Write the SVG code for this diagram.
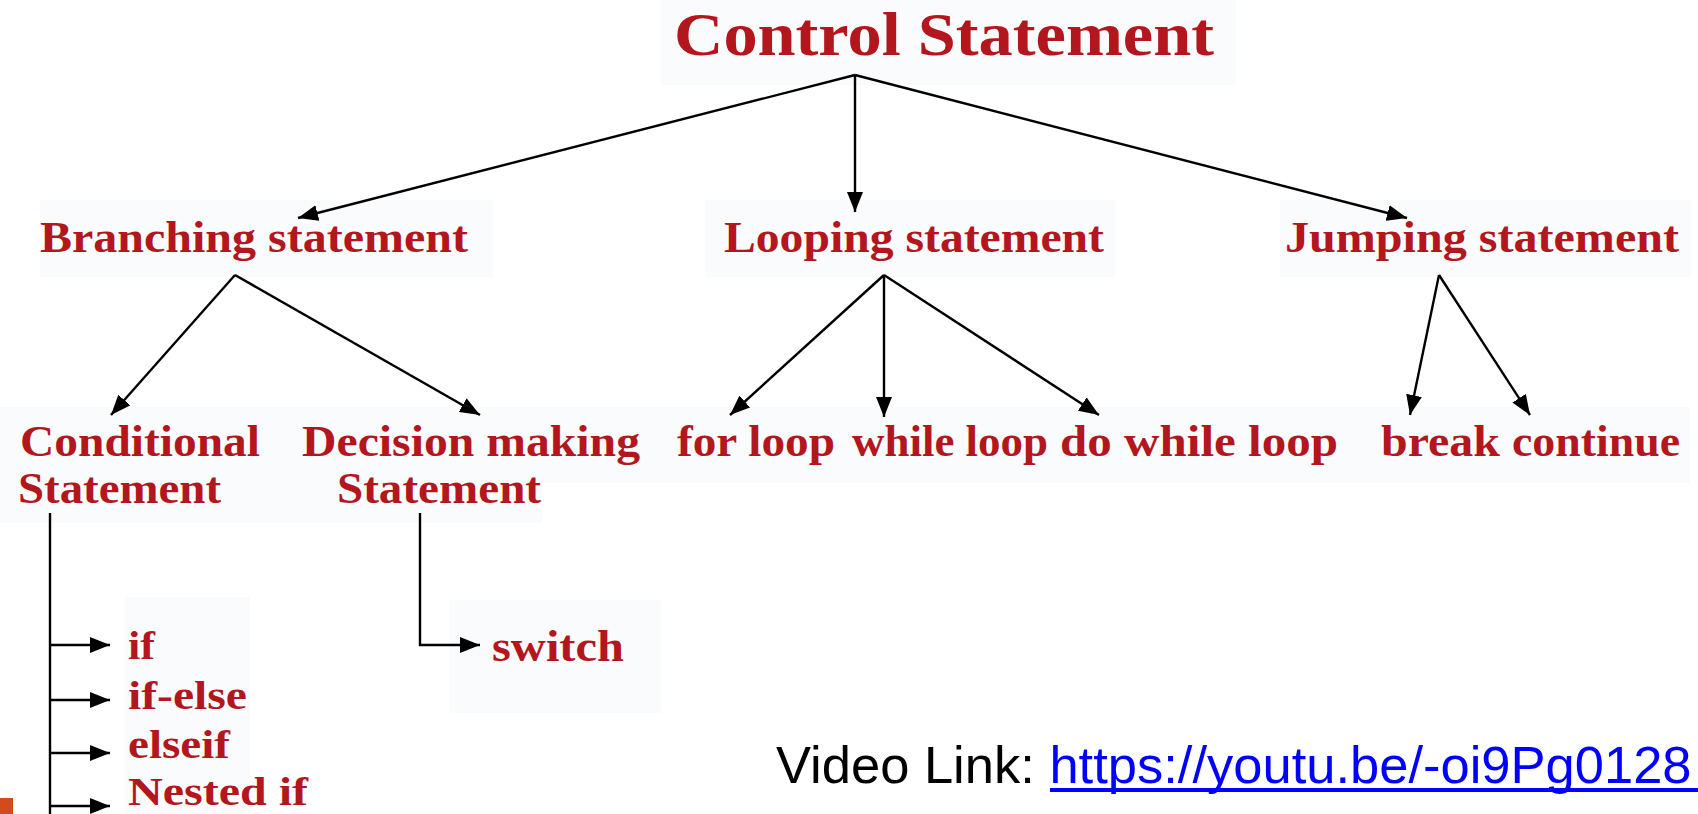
<svg xmlns="http://www.w3.org/2000/svg" width="1698" height="814" viewBox="0 0 1698 814">
<style>
.lbl{font-family:"Liberation Serif","Times New Roman",serif;font-weight:bold;fill:#b3161d;font-size:44px}
.ttl{font-size:61px}
.sm{font-size:40px}
.conn{stroke:#000;stroke-width:2.4;fill:none}
.bg{fill:#fafbfc}
.link{font-family:"Liberation Sans",Arial,sans-serif;font-size:52.5px}
</style>
<defs>
<marker id="arr" viewBox="0 0 20 16" refX="20" refY="8" markerWidth="20" markerHeight="16" markerUnits="userSpaceOnUse" orient="auto">
<path d="M0,0 L20,8 L0,16 z" fill="#000"/>
</marker>
</defs>
<rect width="1698" height="814" fill="#fff"/>
<g id="backgrounds">
<rect class="bg" x="661" y="0" width="575" height="85"/>
<rect class="bg" x="40" y="200" width="453" height="77"/>
<rect class="bg" x="705" y="200" width="410" height="77"/>
<rect class="bg" x="1280" y="200" width="411" height="77"/>
<rect class="bg" x="0" y="407" width="1690" height="76"/>
<rect class="bg" x="0" y="483" width="542" height="40"/>
<rect class="bg" x="125" y="597" width="125" height="217"/>
<rect class="bg" x="450" y="600" width="211" height="113"/>
</g>
<g id="connectors">
<line class="conn" x1="855" y1="75" x2="298" y2="218" marker-end="url(#arr)"/>
<line class="conn" x1="855" y1="75" x2="855" y2="212" marker-end="url(#arr)"/>
<line class="conn" x1="855" y1="75" x2="1407" y2="218" marker-end="url(#arr)"/>
<line class="conn" x1="235" y1="275" x2="111" y2="415" marker-end="url(#arr)"/>
<line class="conn" x1="235" y1="275" x2="480" y2="415" marker-end="url(#arr)"/>
<line class="conn" x1="884" y1="275" x2="730" y2="415" marker-end="url(#arr)"/>
<line class="conn" x1="884" y1="275" x2="884" y2="417" marker-end="url(#arr)"/>
<line class="conn" x1="884" y1="275" x2="1099" y2="415" marker-end="url(#arr)"/>
<line class="conn" x1="1439" y1="275" x2="1410" y2="415" marker-end="url(#arr)"/>
<line class="conn" x1="1439" y1="275" x2="1530" y2="415" marker-end="url(#arr)"/>
<line class="conn" x1="50" y1="513" x2="50" y2="814"/>
<line class="conn" x1="50" y1="645" x2="110" y2="645" marker-end="url(#arr)"/>
<line class="conn" x1="50" y1="700" x2="110" y2="700" marker-end="url(#arr)"/>
<line class="conn" x1="50" y1="753" x2="110" y2="753" marker-end="url(#arr)"/>
<line class="conn" x1="50" y1="806" x2="110" y2="806" marker-end="url(#arr)"/>
<polyline class="conn" points="420,513 420,645 480,645" marker-end="url(#arr)"/>
</g>
<g id="control-statement"><text class="lbl ttl" x="674" y="55" textLength="540" lengthAdjust="spacingAndGlyphs">Control Statement</text></g>
<g id="branching"><text class="lbl" x="40" y="252" textLength="428" lengthAdjust="spacingAndGlyphs">Branching statement</text></g>
<g id="looping"><text class="lbl" x="724" y="252" textLength="380" lengthAdjust="spacingAndGlyphs">Looping statement</text></g>
<g id="jumping"><text class="lbl" x="1285" y="252" textLength="394" lengthAdjust="spacingAndGlyphs">Jumping statement</text></g>
<g id="conditional"><text class="lbl" x="20" y="456" textLength="240" lengthAdjust="spacingAndGlyphs">Conditional</text><text class="lbl" x="18" y="503" textLength="203" lengthAdjust="spacingAndGlyphs">Statement</text></g>
<g id="decision"><text class="lbl" x="302" y="456" textLength="338" lengthAdjust="spacingAndGlyphs">Decision making</text><text class="lbl" x="337" y="503" textLength="204" lengthAdjust="spacingAndGlyphs">Statement</text></g>
<g id="for-loop"><text class="lbl" x="677" y="456" textLength="158" lengthAdjust="spacingAndGlyphs">for loop</text></g>
<g id="while-loop"><text class="lbl" x="852" y="456" textLength="196" lengthAdjust="spacingAndGlyphs">while loop</text></g>
<g id="do-while-loop"><text class="lbl" x="1060" y="456" textLength="278" lengthAdjust="spacingAndGlyphs">do while loop</text></g>
<g id="break"><text class="lbl" x="1381" y="456" textLength="119" lengthAdjust="spacingAndGlyphs">break</text></g>
<g id="continue"><text class="lbl" x="1512" y="456" textLength="168" lengthAdjust="spacingAndGlyphs">continue</text></g>
<g id="if"><text class="lbl sm" x="128" y="659" textLength="27" lengthAdjust="spacingAndGlyphs">if</text></g>
<g id="if-else"><text class="lbl sm" x="128" y="709" textLength="119" lengthAdjust="spacingAndGlyphs">if-else</text></g>
<g id="elseif"><text class="lbl sm" x="128" y="758" textLength="102" lengthAdjust="spacingAndGlyphs">elseif</text></g>
<g id="nested-if"><text class="lbl sm" x="128" y="805" textLength="180" lengthAdjust="spacingAndGlyphs">Nested if</text></g>
<g id="switch"><text class="lbl" x="492" y="661" textLength="132" lengthAdjust="spacingAndGlyphs">switch</text></g>
<g id="video-link">
<text class="link" x="776" y="783" fill="#000">Video Link: <tspan fill="#0000ff">https://youtu.be/-oi9Pg0128</tspan></text>
<rect x="1050" y="788" width="648" height="4" fill="#0000ff"/>
</g>
<rect id="corner-mark" x="0" y="798" width="13" height="16" fill="#d24a1e"/>
</svg>
